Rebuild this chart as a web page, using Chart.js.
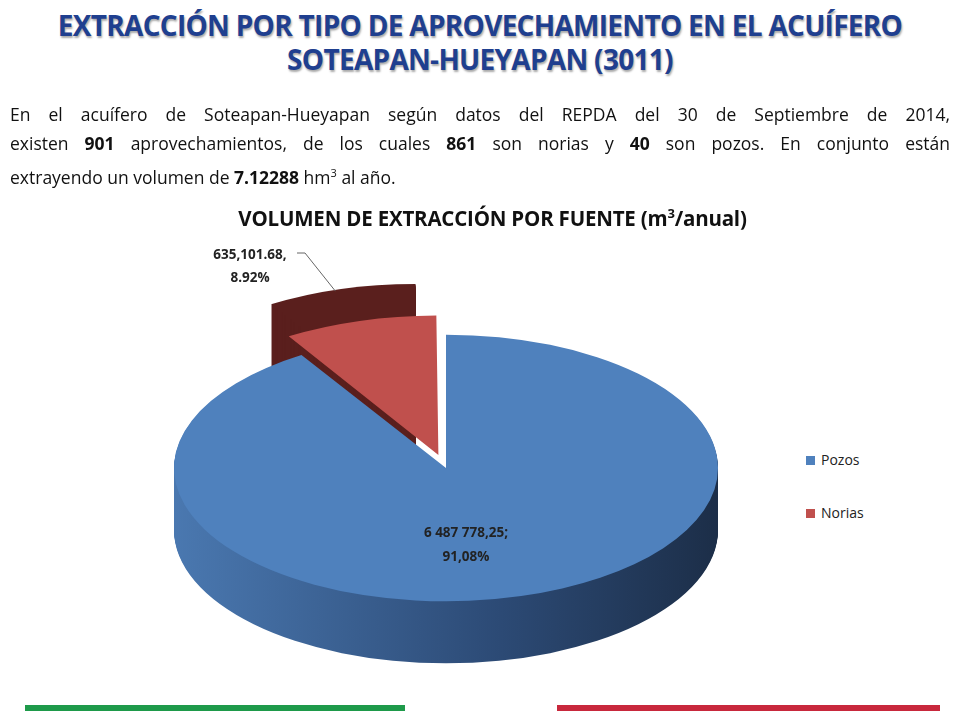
<!DOCTYPE html>
<html><head><meta charset="utf-8">
<script src="https://cdn.jsdelivr.net/npm/chart.js@4"></script>
<style>
body{margin:0;width:960px;height:720px;background:#fff;position:relative;overflow:hidden;font-family:"Open Sans",sans-serif}
#t{position:absolute;top:8px;left:0;width:960px;text-align:center;color:#1f3f8f;font-weight:bold;font-size:28px;line-height:34px;text-shadow:1px 2px 2px #aaa;letter-spacing:-0.7px}
#p{position:absolute;top:100px;left:10px;width:940px;font-size:17.5px;line-height:29px;color:#111}
#p .j{display:block;text-align:justify;text-align-last:justify;white-space:nowrap}
#p .l{display:block}
#ct{position:absolute;top:204px;left:0;width:985px;text-align:center;font-weight:bold;font-size:20.5px;color:#111;letter-spacing:-0.2px}
#wrap{position:absolute;left:119px;top:141px;width:654px;height:654px}
.lg{position:absolute;left:806px;font-size:14px;color:#222}
.lg span{display:inline-block;width:9px;height:9px;margin-right:6px}
.bar{position:absolute;top:705px;height:6px}
</style></head><body>
<div id="wrap"><canvas id="c"></canvas></div>
<div id="t">EXTRACCIÓN POR TIPO DE APROVECHAMIENTO EN EL ACUÍFERO<br>SOTEAPAN-HUEYAPAN (3011)</div>
<div id="p"><span class="j">En el acuífero de Soteapan-Hueyapan según datos del REPDA del 30 de Septiembre de 2014,</span><span class="j">existen <b>901</b> aprovechamientos, de los cuales <b>861</b> son norias y <b>40</b> son pozos. En conjunto están</span><span class="l">extrayendo un volumen de <b>7.12288</b> hm<sup style="font-size:11px">3</sup> al año.</span></div>
<div id="ct">VOLUMEN DE EXTRACCIÓN POR FUENTE (m<sup style="font-size:13px">3</sup>/anual)</div>
<div class="lg" style="top:450px"><span style="background:#4f81bd"></span>Pozos</div>
<div class="lg" style="top:503px"><span style="background:#c0504d"></span>Norias</div>
<div class="bar" style="left:25px;width:380px;background:#1e9a4a"></div>
<div class="bar" style="left:557px;width:383px;background:#c8283c"></div>
<script>
const categories=["Pozos","Norias"];
const values=[6487778.25,635101.68];
const labels=[["6 487 778,25;","91,08%"],["635,101.68,","8.92%"]];
const colors=["#4f81bd","#c0504d"];
const SY=0.49, DEPTH=62;
const fake3d={id:"fake3d",
 beforeDatasetsDraw(ch){const ctx=ch.ctx,a=ch.chartArea,cy=(a.top+a.bottom)/2;
  ctx.save();ctx.translate(0,cy);ctx.scale(1,SY);ctx.translate(0,-cy);
  const meta=ch.getDatasetMeta(0);
  meta.data.forEach((el,i)=>{const o=el.options.offset||0,mid=(el.startAngle+el.endAngle)/2;
   const ox=Math.cos(mid)*o,oy=Math.sin(mid)*o;
   let fill;
   if(i===0){fill=ctx.createLinearGradient(el.x-el.outerRadius,0,el.x+el.outerRadius,0);fill.addColorStop(0,"#4a78b0");fill.addColorStop(0.6,"#2c4a75");fill.addColorStop(1,"#1c2e48");}
   else fill="#5a1f1d";
   for(let d=DEPTH;d>0;d-=1){ctx.beginPath();const x=el.x+ox,y=el.y+oy+d/SY;
    ctx.moveTo(x,y);ctx.arc(x,y,el.outerRadius,el.startAngle,el.endAngle);ctx.closePath();ctx.fillStyle=fill;ctx.fill();}
  });
 },
 afterDatasetsDraw(ch){const ctx=ch.ctx;ctx.restore();
  const a=ch.chartArea,cy=(a.top+a.bottom)/2,meta=ch.getDatasetMeta(0);
  ctx.save();ctx.font="bold 13.5px 'Open Sans', sans-serif";ctx.fillStyle="#222";ctx.textAlign="center";
  const b=meta.data[0];
  const x=b.x+20,y=cy+b.outerRadius*0.52*SY;
  ctx.fillText(labels[0][0],x,y);ctx.fillText(labels[0][1],x,y+24);
  const r=meta.data[1],mr=(r.startAngle+r.endAngle)/2,o=r.options.offset;
  const ex=r.x+Math.cos(mr)*(o+r.outerRadius),ey=cy+(r.y-cy+Math.sin(mr)*(o+r.outerRadius))*SY;
  const lx=131,ly=114;
  ctx.strokeStyle="#666";ctx.lineWidth=1;ctx.beginPath();ctx.moveTo(ex-5,ey+3);ctx.lineTo(lx+55,ly-2);ctx.lineTo(lx+47,ly-2);ctx.stroke();
  ctx.fillText(labels[1][0],lx,ly+4);ctx.fillText(labels[1][1],lx,ly+27);
  ctx.restore();}
};
new Chart(document.getElementById("c"),{type:"pie",
 data:{labels:categories,datasets:[{data:values,backgroundColor:colors,borderWidth:0,offset:[0,110]}]},
 options:{responsive:true,maintainAspectRatio:false,animation:false,layout:{padding:0},
  plugins:{legend:{display:false},tooltip:{enabled:false}}},
 plugins:[fake3d]});
</script>
</body></html>
